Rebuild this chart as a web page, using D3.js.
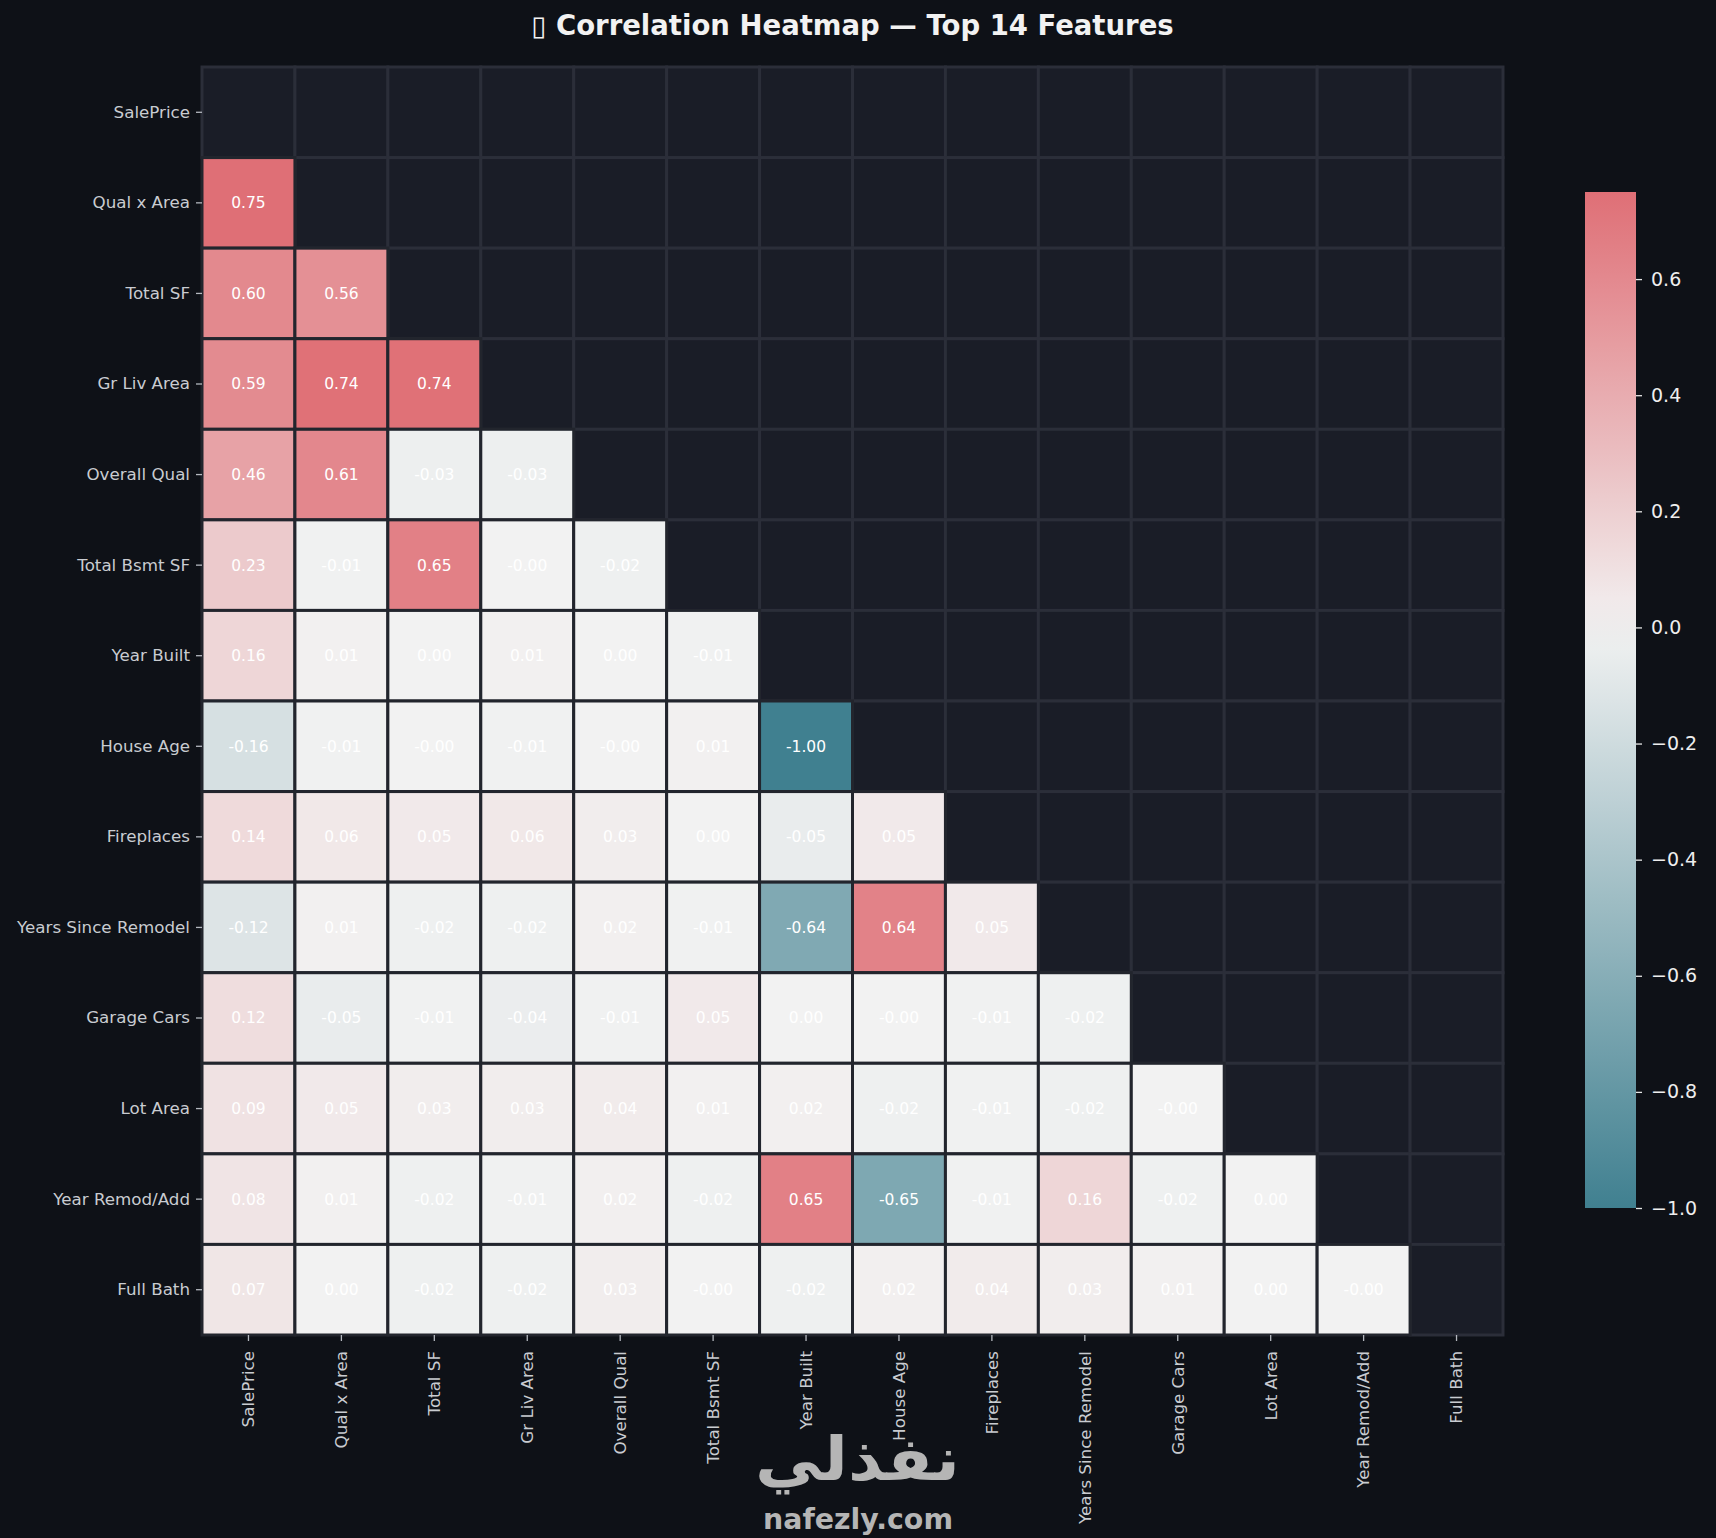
<!DOCTYPE html>
<html>
<head>
<meta charset="utf-8">
<script src="https://cdn.jsdelivr.net/npm/d3@7"></script>
<style>
  html, body { margin: 0; padding: 0; background: #0e1117; }
  svg { display: block; font-family: "DejaVu Sans", sans-serif; }
</style>
</head>
<body>
<svg id="chart" width="1716" height="1538"></svg>
<script>
// feature order (rows top->bottom, columns left->right)
const features = [
  "SalePrice", "Qual x Area", "Total SF", "Gr Liv Area", "Overall Qual",
  "Total Bsmt SF", "Year Built", "House Age", "Fireplaces", "Years Since Remodel",
  "Garage Cars", "Lot Area", "Year Remod/Add", "Full Bath"
]

// lower triangle of the correlation matrix, one row per feature
// (-0.00 kept as negative zero, it is printed with its sign)
const lowerRows = [
  [],
  [0.75],
  [0.60, 0.56],
  [0.59, 0.74, 0.74],
  [0.46, 0.61, -0.03, -0.03],
  [0.23, -0.01, 0.65, -0.00, -0.02],
  [0.16, 0.01, 0.00, 0.01, 0.00, -0.01],
  [-0.16, -0.01, -0.00, -0.01, -0.00, 0.01, -1.00],
  [0.14, 0.06, 0.05, 0.06, 0.03, 0.00, -0.05, 0.05],
  [-0.12, 0.01, -0.02, -0.02, 0.02, -0.01, -0.64, 0.64, 0.05],
  [0.12, -0.05, -0.01, -0.04, -0.01, 0.05, 0.00, -0.00, -0.01, -0.02],
  [0.09, 0.05, 0.03, 0.03, 0.04, 0.01, 0.02, -0.02, -0.01, -0.02, -0.00],
  [0.08, 0.01, -0.02, -0.01, 0.02, -0.02, 0.65, -0.65, -0.01, 0.16, -0.02, 0.00],
  [0.07, 0.00, -0.02, -0.02, 0.03, -0.00, -0.02, 0.02, 0.04, 0.03, 0.01, 0.00, -0.00]
]

const cbarTicks = [-1.0, -0.8, -0.6, -0.4, -0.2, 0.0, 0.2, 0.4, 0.6]
const titleText = "\u25AF Correlation Heatmap \u2014 Top 14 Features"

const W = 1716, H = 1538
const gridLeft = 202, gridRight = 1503, gridTop = 67, gridBottom = 1335

const svg = d3.select("#chart")
svg.append("rect").attr("width", W).attr("height", H).attr("fill", "#0e1117")

const x = d3.scaleBand().domain(features).range([gridLeft, gridRight])
const y = d3.scaleBand().domain(features).range([gridTop, gridBottom])

const vmin = -1
const vmax = d3.max(lowerRows.flat())

// diverging blue -> light -> red, centred on 0
const color = d3.scaleLinear()
  .domain([-1, 0, 1])
  .range(["#408090", "#f2f2f2", "#d9434c"])
  .clamp(true)

let cells = []
let masked = []
features.forEach((rowName, i) => {
  features.forEach((colName, j) => {
    if (j < i) cells.push({row: rowName, col: colName, v: lowerRows[i][j]})
    else masked.push({row: rowName, col: colName})
  })
})

// masked upper triangle
svg.append("g").selectAll("rect")
  .data(masked)
  .join("rect")
  .attr("x", d => x(d.col))
  .attr("y", d => y(d.row))
  .attr("width", x.bandwidth())
  .attr("height", y.bandwidth())
  .attr("fill", "#1a1d27")
  .attr("stroke", "#2b2e39")
  .attr("stroke-width", 3)

// d3 drops the sign of negative zero, matplotlib keeps it
const f2 = d3.format(".2f")
const fmt = v => (v < 0 || Object.is(v, -0) ? "-" : "") + f2(Math.abs(v))

const cellG = svg.append("g").selectAll("g")
  .data(cells)
  .join("g")
  .attr("transform", d => `translate(${x(d.col)},${y(d.row)})`)

cellG.append("rect")
  .attr("width", x.bandwidth())
  .attr("height", y.bandwidth())
  .attr("fill", d => color(d.v))
  .attr("stroke", "#22252d")
  .attr("stroke-width", 3)

cellG.append("text")
  .attr("x", x.bandwidth() / 2)
  .attr("y", y.bandwidth() / 2)
  .attr("dy", "0.35em")
  .attr("text-anchor", "middle")
  .attr("fill", "#ffffff")
  .style("font-size", "15.5px")
  .text(d => fmt(d.v))

// axes
const yAxis = svg.append("g")
  .attr("transform", `translate(${gridLeft},0)`)
  .call(d3.axisLeft(y).tickSize(6).tickPadding(6))
yAxis.select(".domain").remove()
yAxis.selectAll("line").attr("stroke", "#b4b8bf").attr("stroke-width", 1.3)
yAxis.selectAll("text").attr("fill", "#c9ccd1").style("font-size", "16.7px").style("font-family", "DejaVu Sans")

const xAxis = svg.append("g")
  .attr("transform", `translate(0,${gridBottom})`)
  .call(d3.axisBottom(x).tickSize(6))
xAxis.select(".domain").remove()
xAxis.selectAll("line").attr("stroke", "#b4b8bf").attr("stroke-width", 1.3)
xAxis.selectAll("text")
  .attr("transform", "rotate(-90)")
  .attr("text-anchor", "end")
  .attr("x", -16)
  .attr("y", 0)
  .attr("dy", "0.35em")
  .attr("fill", "#c9ccd1")
  .style("font-size", "16.7px")
  .style("font-family", "DejaVu Sans")

// colorbar
const cbX = 1585, cbW = 51
const cb = d3.scaleLinear().domain([vmin, vmax]).range([1208, 192])

const grad = svg.append("defs").append("linearGradient")
  .attr("id", "cbgrad")
  .attr("x1", 0).attr("y1", 1).attr("x2", 0).attr("y2", 0)
grad.selectAll("stop")
  .data(d3.range(0, 1.0001, 0.05))
  .join("stop")
  .attr("offset", t => t)
  .attr("stop-color", t => color(vmin + t * (vmax - vmin)))

svg.append("rect")
  .attr("x", cbX)
  .attr("y", cb(vmax))
  .attr("width", cbW)
  .attr("height", cb(vmin) - cb(vmax))
  .attr("fill", "url(#cbgrad)")

const cbAxis = svg.append("g")
  .attr("transform", `translate(${cbX + cbW},0)`)
  .call(d3.axisRight(cb).tickValues(cbarTicks).tickSize(6).tickPadding(9).tickFormat(d3.format(".1f")))
cbAxis.select(".domain").remove()
cbAxis.selectAll("line").attr("stroke", "#e6e6e6").attr("stroke-width", 1.3)
cbAxis.selectAll("text").attr("fill", "#eeeeee").style("font-size", "19px").style("font-family", "DejaVu Sans")

// title
svg.append("text")
  .attr("x", (gridLeft + gridRight) / 2)
  .attr("y", 35)
  .attr("text-anchor", "middle")
  .attr("fill", "#f2f2f2")
  .style("font-size", "27.5px")
  .style("font-weight", "bold")
  .text(titleText)

// watermark
const wm = svg.append("g").attr("fill", "#b5b5b5")
wm.append("text")
  .attr("x", 755).attr("y", 1480)
  .attr("textLength", 205).attr("lengthAdjust", "spacingAndGlyphs")
  .style("font-size", "60px").style("font-weight", "bold")
  .text("نفذلي")
wm.append("text")
  .attr("x", 763).attr("y", 1529)
  .attr("textLength", 190).attr("lengthAdjust", "spacingAndGlyphs")
  .style("font-size", "29px").style("font-weight", "bold")
  .text("nafezly.com")
</script>
</body>
</html>
